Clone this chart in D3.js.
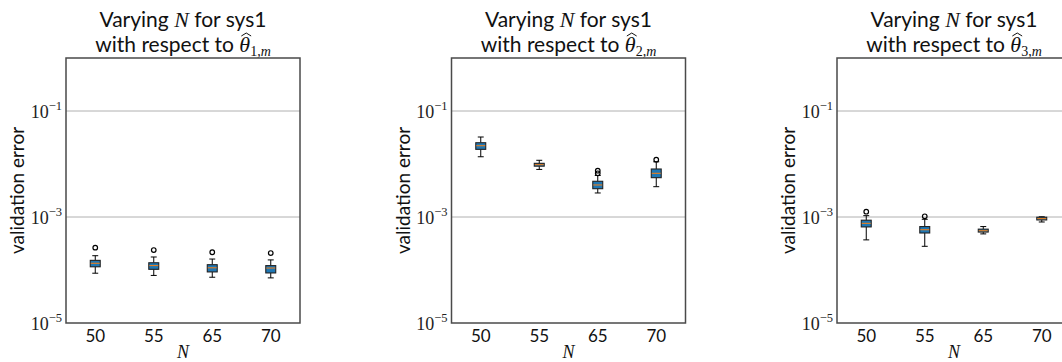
<!DOCTYPE html>
<html>
<head>
<meta charset="utf-8">
<script src="https://cdn.jsdelivr.net/npm/d3@7"></script>
<style>
  html, body { margin: 0; padding: 0; background: #fff; }
  svg { display: block; }
</style>
</head>
<body>
<svg id="chart" width="1062" height="362"></svg>
<script>
// ---------------- data ----------------
const categories = ["50", "55", "65", "70"];
const panelIndices = ["1", "2", "3"];
const yTickValues = [1e-5, 1e-3, 1e-1];
const yTickExponents = ["\u22125", "\u22123", "\u22121"];

// per panel (rows) and per category (columns)
const whiskerLow = [
  [8.7e-5, 7.9e-5, 7.3e-5, 7.1e-5],
  [0.0137, 0.0079, 0.00284, 0.00373],
  [3.7e-4, 2.8e-4, 4.8e-4, 8.05e-4]
];
const q1 = [
  [1.15e-4, 1.03e-4, 9.2e-5, 8.8e-5],
  [0.0189, 0.0091, 0.00342, 0.00552],
  [6.5e-4, 4.99e-4, 5.2e-4, 8.8e-4]
];
const median = [
  [1.34e-4, 1.21e-4, 1.10e-4, 1.09e-4],
  [0.0221, 0.0097, 0.00402, 0.00668],
  [7.6e-4, 5.75e-4, 5.5e-4, 9.3e-4]
];
const q3 = [
  [1.52e-4, 1.37e-4, 1.26e-4, 1.21e-4],
  [0.0252, 0.0103, 0.00472, 0.00805],
  [8.7e-4, 6.6e-4, 5.9e-4, 9.9e-4]
];
const whiskerHigh = [
  [1.86e-4, 1.76e-4, 1.61e-4, 1.55e-4],
  [0.0323, 0.01175, 0.00607, 0.0110],
  [1.06e-3, 9.05e-4, 6.6e-4, 1.01e-3]
];
const outliers = [
  [[2.64e-4], [2.38e-4], [2.16e-4], [2.09e-4]],
  [[], [], [0.00668, 0.00748], [0.01205]],
  [[1.26e-3], [1.03e-3], [], []]
];

// ---------------- layout ----------------
const svg = d3.select("#chart");
const plotW = 234, plotH = 265, plotTop = 58;
const panelStep = 385.5, firstLeft = 66;
const sans = "Lato, 'DejaVu Sans', sans-serif";
const serif = "'Liberation Serif', 'DejaVu Serif', serif";
const spineColor = "#4a4a4a";

panelIndices.forEach((pIdx, p) => {
  const left = firstLeft + p * panelStep;
  const g = svg.append("g").attr("transform", `translate(${left},${plotTop})`);

  const x = d3.scaleBand().domain(categories).range([0, plotW]).paddingInner(0).paddingOuter(0);
  const y = d3.scaleLog().domain([1e-5, 1]).range([plotH, 0]);
  const boxW = x.bandwidth() * 0.17;
  const capW = boxW * 0.6;

  // grid lines
  g.append("g").selectAll("line").data(yTickValues.slice(1)).join("line")
    .attr("x1", 0).attr("x2", plotW)
    .attr("y1", d => y(d)).attr("y2", d => y(d))
    .attr("stroke", "#b0b0b0").attr("stroke-width", 1);

  // boxes
  categories.forEach((c, i) => {
    const cx = x(c) + x.bandwidth() / 2;
    const bg = g.append("g");
    bg.append("line").attr("x1", cx).attr("x2", cx)
      .attr("y1", y(q3[p][i])).attr("y2", y(whiskerHigh[p][i]))
      .attr("stroke", "#000").attr("stroke-width", 1);
    bg.append("line").attr("x1", cx).attr("x2", cx)
      .attr("y1", y(q1[p][i])).attr("y2", y(whiskerLow[p][i]))
      .attr("stroke", "#000").attr("stroke-width", 1);
    [whiskerHigh[p][i], whiskerLow[p][i]].forEach(v => {
      bg.append("line").attr("x1", cx - capW / 2).attr("x2", cx + capW / 2)
        .attr("y1", y(v)).attr("y2", y(v))
        .attr("stroke", "#000").attr("stroke-width", 1);
    });
    bg.append("rect")
      .attr("x", cx - boxW / 2).attr("width", boxW)
      .attr("y", y(q3[p][i])).attr("height", Math.max(1, y(q1[p][i]) - y(q3[p][i])))
      .attr("fill", "#1f77b4").attr("stroke", "#222").attr("stroke-width", 1.1);
    bg.append("line").attr("x1", cx - boxW / 2 + 0.5).attr("x2", cx + boxW / 2 - 0.5)
      .attr("y1", y(median[p][i])).attr("y2", y(median[p][i]))
      .attr("stroke", "#ff7f0e").attr("stroke-width", 1);
    bg.selectAll("circle").data(outliers[p][i]).join("circle")
      .attr("cx", cx).attr("cy", d => y(d)).attr("r", 2.3)
      .attr("fill", "none").attr("stroke", "#000").attr("stroke-width", 1.2);
  });

  // frame
  g.append("rect").attr("x", 0).attr("y", 0).attr("width", plotW).attr("height", plotH)
    .attr("fill", "none").attr("stroke", spineColor).attr("stroke-width", 1.5);

  // x tick labels
  g.append("g").selectAll("text").data(categories).join("text")
    .attr("x", d => x(d) + x.bandwidth() / 2)
    .attr("y", plotH + 19)
    .attr("text-anchor", "middle")
    .attr("font-family", sans).attr("font-size", 17).attr("fill", "#111")
    .text(d => d);

  // y tick labels 10^e
  yTickValues.forEach((v, k) => {
    const t = g.append("text")
      .attr("x", -4).attr("y", y(v) + 7)
      .attr("text-anchor", "end")
      .attr("font-family", serif).attr("fill", "#222");
    t.append("tspan").attr("font-size", 18).text("10");
    t.append("tspan").attr("font-size", 12.5).attr("dy", -8).text(yTickExponents[k]);
  });

  // y axis label
  g.append("text")
    .attr("transform", `translate(${-42},${plotH / 2}) rotate(-90)`)
    .attr("text-anchor", "middle")
    .attr("font-family", sans).attr("font-size", 19).attr("fill", "#111")
    .text("validation error");

  // x axis label
  g.append("text")
    .attr("x", plotW / 2).attr("y", plotH + 35)
    .attr("text-anchor", "middle")
    .attr("font-family", serif).attr("font-style", "italic").attr("font-size", 18).attr("fill", "#111")
    .text("N");

  // title
  const t1 = g.append("text")
    .attr("x", plotW / 2).attr("y", -31)
    .attr("text-anchor", "middle")
    .attr("font-family", sans).attr("font-size", 21).attr("fill", "#111");
  t1.append("tspan").text("Varying ");
  t1.append("tspan").attr("font-family", serif).attr("font-style", "italic").attr("font-size", 22).text("N");
  t1.append("tspan").text(" for sys1");

  const t2 = g.append("text")
    .attr("x", plotW / 2).attr("y", -6)
    .attr("text-anchor", "middle")
    .attr("font-family", sans).attr("font-size", 21).attr("fill", "#111");
  const pre = "with respect to ";
  t2.append("tspan").text(pre);
  t2.append("tspan").attr("font-family", serif).attr("font-style", "italic").attr("font-size", 22).text("\u03B8");
  t2.append("tspan").attr("font-family", serif).attr("font-size", 14).attr("dy", 4).text(pIdx + ",");
  t2.append("tspan").attr("font-family", serif).attr("font-style", "italic").attr("font-size", 14).text("m");

  // hat above theta
  const node = t2.node();
  const s = node.getStartPositionOfChar(pre.length);
  const e = node.getEndPositionOfChar(pre.length);
  const hx0 = s.x + 2, hx1 = e.x + 1, hy = -6 - 19;
  g.append("path")
    .attr("d", `M${hx0},${hy + 3}L${(hx0 + hx1) / 2},${hy}L${hx1},${hy + 3}`)
    .attr("fill", "none").attr("stroke", "#111").attr("stroke-width", 1);
});
</script>
</body>
</html>
